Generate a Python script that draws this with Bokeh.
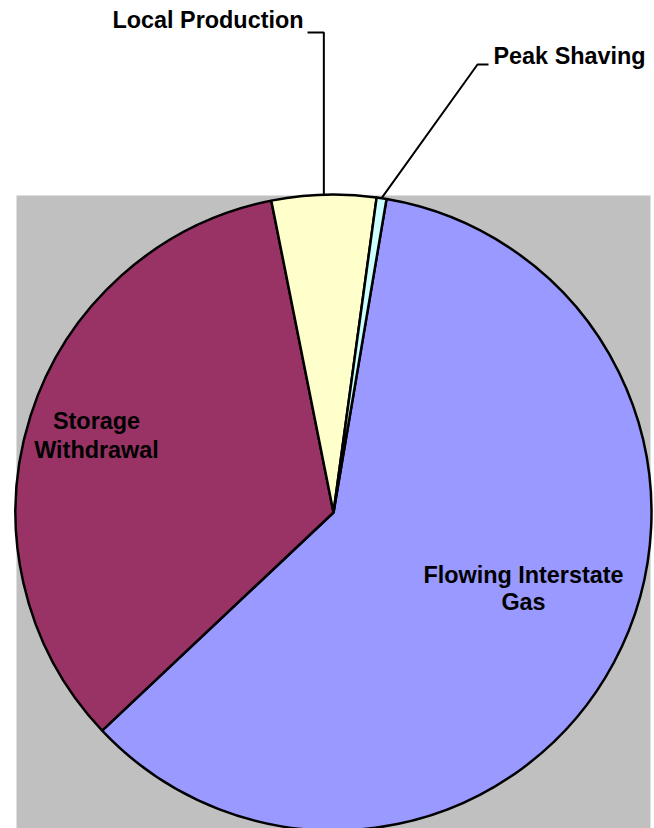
import numpy as np
from bokeh.plotting import figure
from bokeh.models import Range1d
from bokeh.core.properties import value
from bokeh.embed import file_html
from bokeh.resources import INLINE

# ---- data ----
categories = ["Flowing Interstate Gas", "Storage Withdrawal", "Local Production", "Peak Shaving"]
shares = [60.3, 33.9, 5.3, 0.5]          # percent of supply
colors = ["#9999FF", "#993366", "#FFFFCC", "#CCFFFF"]

# ---- layout (page pixel coordinates, y downward) ----
W, H = 654, 828
X0, Y0 = 0, 0               # page offset of the plot frame
CX, CY, R = 333, 512, 318
FIRST_ANGLE = 9.6          # degrees clockwise from 12 o'clock where the first slice starts
FONT = value("Liberation Sans")
FS = "23.4px"
TEXT_DY = -8               # baseline correction

p = figure(width=W, height=H, output_backend="svg", toolbar_location=None,
           x_range=Range1d(X0, X0 + W), y_range=Range1d(-(Y0 + H), -Y0),
           min_border=0, outline_line_color=None,
           background_fill_color="white", border_fill_color="white")
p.axis.visible = False
p.xgrid.visible = False
p.ygrid.visible = False

# plot area background
p.quad(left=16, right=650, top=-195, bottom=-840, fill_color="#C0C0C0", line_color=None)

# slices (clockwise from FIRST_ANGLE)
vals = np.array(shares, dtype=float)
deg = vals / vals.sum() * 360.0
cw_end = FIRST_ANGLE + np.cumsum(deg)
cw_start = cw_end - deg
start_math = np.deg2rad(90.0 - cw_end)
end_math = np.deg2rad(90.0 - cw_start)
p.wedge(x=[CX] * len(vals), y=[-CY] * len(vals), radius=R,
        start_angle=list(start_math), end_angle=list(end_math), direction="anticlock",
        fill_color=colors, line_color="black", line_width=2.5)

# leader-line anchors at the mid-angle of small slices
mid = np.deg2rad((cw_start + cw_end) / 2.0)
ax = CX + R * np.sin(mid)
ay = -(CY - R * np.cos(mid))

# Local Production leader
p.line(x=[307, ax[2], ax[2]], y=[-32, -32, ay[2]], line_color="black", line_width=2)
# Peak Shaving leader
p.line(x=[488, 477, ax[3]], y=[-64, -64, ay[3]], line_color="black", line_width=2)

# labels
def label(x, y, t, align):
    p.text(x=[x], y=[-(y + TEXT_DY)], text=[t], text_font=FONT, text_font_size=FS,
           text_font_style="bold", text_color="black",
           text_align=align, text_baseline="alphabetic")

label(112, 27, "Local Production", "left")
label(493, 63, "Peak Shaving", "left")
label(96, 428, "Storage", "center")
label(96, 457, "Withdrawal", "center")
label(523, 582, "Flowing Interstate", "center")
label(523, 609, "Gas", "center")

open("out.html", "w").write(file_html(p, INLINE))
